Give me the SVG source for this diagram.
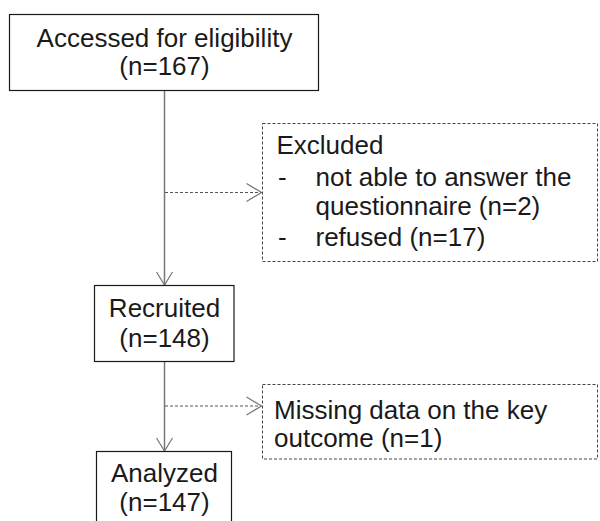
<svg xmlns="http://www.w3.org/2000/svg" width="600" height="521" viewBox="0 0 600 521">
<defs>
<style>
text{font-family:"Liberation Sans",Arial,sans-serif;font-size:26px;fill:#1a1a1a}
.c{text-anchor:middle}
.box{fill:#fff;stroke:#1a1a1a;stroke-width:1.2}
.dbox{fill:#fff;stroke:#444;stroke-width:1;stroke-dasharray:3 2}
.sol{stroke:#777;stroke-width:1.5;fill:none}
.dash{stroke:#555;stroke-width:1;stroke-dasharray:3 2;fill:none}
.head{stroke:#777;stroke-width:1.2;fill:none}
</style>
</defs>
<rect width="600" height="521" fill="#fff"/>
<g id="connectors">
<line class="sol" x1="164.5" y1="91" x2="164.5" y2="285"/>
<polyline class="head" points="156.5,272 164.5,285 172.5,272"/>
<line class="dash" x1="165" y1="192.5" x2="261" y2="192.5"/>
<polyline class="head" points="246.5,183.5 261.5,192.5 246.5,201.5"/>
<line class="sol" x1="164.5" y1="362" x2="164.5" y2="451"/>
<polyline class="head" points="156.5,438 164.5,451 172.5,438"/>
<line class="dash" x1="165" y1="406" x2="261" y2="406"/>
<polyline class="head" points="246.5,397 261.5,406 246.5,415"/>
</g>
<g id="accessed">
<rect class="box" x="9.5" y="14.5" width="309" height="76"/>
<text class="c" x="164.5" y="47">Accessed for eligibility</text>
<text class="c" x="164.5" y="75">(n=167)</text>
</g>
<g id="excluded">
<rect class="dbox" x="262.5" y="123.5" width="335" height="138"/>
<text x="276.5" y="154">Excluded</text>
<text x="278" y="185.5">-</text>
<text x="315.5" y="185.5">not able to answer the</text>
<text x="315.5" y="215">questionnaire (n=2)</text>
<text x="278" y="246">-</text>
<text x="315.5" y="246">refused (n=17)</text>
</g>
<g id="recruited">
<rect class="box" x="94.5" y="285.5" width="139.5" height="76"/>
<text class="c" x="164.5" y="317">Recruited</text>
<text class="c" x="164.5" y="347">(n=148)</text>
</g>
<g id="missing">
<rect class="dbox" x="262.5" y="384.5" width="335" height="74.5"/>
<text x="274" y="419">Missing data on the key</text>
<text x="274" y="447">outcome (n=1)</text>
</g>
<g id="analyzed">
<rect class="box" x="96.5" y="451.5" width="135" height="80"/>
<text class="c" x="164.5" y="482">Analyzed</text>
<text class="c" x="164.5" y="511">(n=147)</text>
</g>
</svg>
